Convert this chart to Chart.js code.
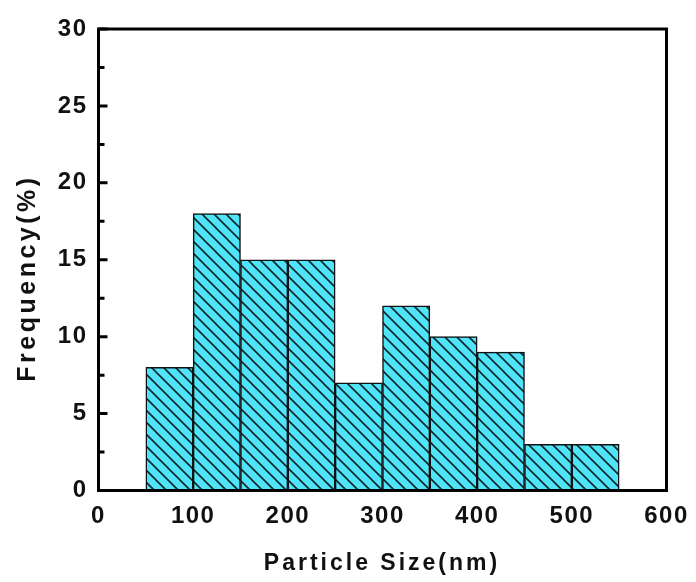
<!DOCTYPE html>
<html>
<head>
<meta charset="utf-8">
<script src="https://cdn.jsdelivr.net/npm/chart.js@4"></script>
<style>
  body { margin: 0; background: #fff; }
  canvas { display: block; }
</style>
</head>
<body>
<canvas id="sizeChart" width="696" height="582"></canvas>
<script>
// histogram data: bin centres (nm) and frequency (%)
const binCenters = [75, 125, 175, 225, 275, 325, 375, 425, 475, 525];
const frequency = [8, 18, 15, 15, 7, 12, 10, 9, 3, 3];
const xTickValues = [0, 100, 200, 300, 400, 500, 600];
const yTickValues = [0, 5, 10, 15, 20, 25, 30];
const yMinorTicks = [2.5, 7.5, 12.5, 17.5, 22.5, 27.5];

const FONT = "'Liberation Sans', Arial, sans-serif";

// diagonal hatch pattern on cyan
function makeHatch() {
  const s = 12;
  const c = document.createElement("canvas");
  c.width = s;
  c.height = s;
  const g = c.getContext("2d");
  g.fillStyle = "#4fe4f8";
  g.fillRect(0, 0, s, s);
  g.strokeStyle = "#10262c";
  g.lineWidth = 1.6;
  g.beginPath();
  g.moveTo(-2, -2); g.lineTo(s + 2, s + 2);
  g.moveTo(-2, s - 2); g.lineTo(2, s + 2);
  g.moveTo(s - 2, -2); g.lineTo(s + 2, 2);
  g.stroke();
  return g.createPattern(c, "repeat");
}

const frame = {
  id: "frame",
  beforeLayout(chart) { chart.ctx.letterSpacing = "1.5px"; },
  beforeDraw(chart) { chart.ctx.letterSpacing = "1.5px"; },
  afterDatasetsDraw(chart) {
    const { ctx, chartArea: a, scales } = chart;
    ctx.save();
    ctx.strokeStyle = "#000";
    ctx.lineWidth = 3;
    // inward ticks on the left axis
    ctx.beginPath();
    yTickValues.forEach(v => {
      const y = scales.y.getPixelForValue(v);
      ctx.moveTo(a.left, y); ctx.lineTo(a.left + 9, y);
    });
    yMinorTicks.forEach(v => {
      const y = scales.y.getPixelForValue(v);
      ctx.moveTo(a.left, y); ctx.lineTo(a.left + 6, y);
    });
    ctx.stroke();
    ctx.strokeRect(a.left, a.top, a.right - a.left, a.bottom - a.top);

    // axis titles
    ctx.fillStyle = "#111";
    ctx.textAlign = "center";
    ctx.textBaseline = "middle";
    ctx.font = "bold 23px " + FONT;
    ctx.letterSpacing = "3px";
    ctx.fillText("Particle Size(nm)", 382, 564);
    ctx.translate(28, 280);
    ctx.rotate(-Math.PI / 2);
    ctx.font = "bold 25px " + FONT;
    ctx.letterSpacing = "3.5px";
    ctx.fillText("Frequency(%)", 2, 0);
    ctx.restore();
  }
};

function noOverflow(s) {
  s.paddingLeft = 0;
  s.paddingRight = 0;
  s.paddingTop = 0;
  s.paddingBottom = 0;
}

new Chart(document.getElementById("sizeChart"), {
  type: "bar",
  data: {
    labels: binCenters,
    datasets: [{
      data: binCenters.map((x, i) => ({ x: x, y: frequency[i] })),
      backgroundColor: makeHatch(),
      borderColor: "#111",
      borderWidth: 1.5,
      barPercentage: 1,
      categoryPercentage: 1
    }]
  },
  options: {
    responsive: false,
    animation: false,
    layout: { padding: { top: 29, right: 29.5, left: 0, bottom: 0 } },
    plugins: {
      legend: { display: false },
      tooltip: { enabled: false }
    },
    scales: {
      x: {
        type: "linear",
        offset: false,
        min: 0,
        max: 600,
        grid: { display: false, drawTicks: false, offset: false },
        border: { display: false },
        afterBuildTicks: s => { s.ticks = xTickValues.map(v => ({ value: v })); },
        afterFit: s => { s.height = 91.5; noOverflow(s); },
        ticks: {
          color: "#111",
          padding: 11,
          maxRotation: 0,
          font: { family: FONT, size: 24, weight: "bold" }
        }
      },
      y: {
        min: 0,
        max: 30,
        grid: { display: false, drawTicks: false },
        border: { display: false },
        afterBuildTicks: s => { s.ticks = yTickValues.map(v => ({ value: v })); },
        afterFit: s => { s.width = 98.5; noOverflow(s); },
        ticks: {
          color: "#111",
          padding: 11,
          font: { family: FONT, size: 24, weight: "bold" }
        }
      }
    }
  },
  plugins: [frame]
});
</script>
</body>
</html>
